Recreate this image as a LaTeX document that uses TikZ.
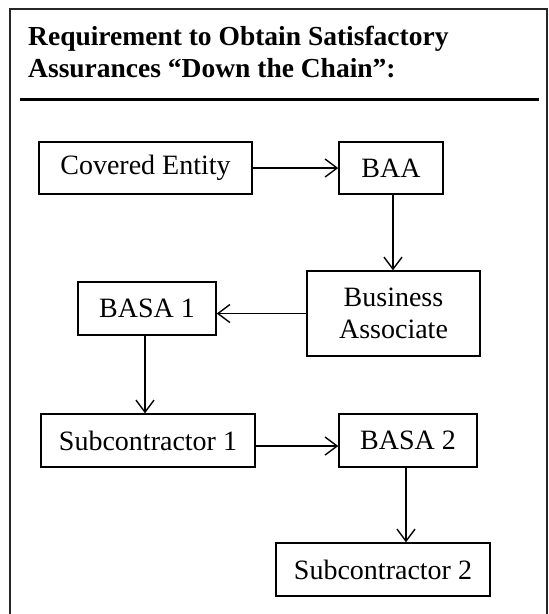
\documentclass[tikz,border=0pt]{standalone}
\usepackage{fontspec}
\setmainfont{Liberation Serif}
\usetikzlibrary{arrows.meta}

\begin{document}
\begin{tikzpicture}[x=1pt, y=-1pt,
	box/.style={draw, line width=1.5pt, inner sep=0pt, font=\fontsize{28}{32}\selectfont, align=center},
	flow/.style={-{Straight Barb[length=12pt, width=18pt, line width=1.4pt]}, line width=1.4pt}]

	\useasboundingbox (0,0) rectangle (549,614);

	% outer frame (bottom edge runs off the page)
	\draw[line width=1.7pt, color=black!85] (10,614) -- (10,9) -- (547,9) -- (547,614);

	% heading
	\node[anchor=base west, inner sep=0pt, font=\fontsize{27.5}{31}\selectfont\bfseries] (title1) at (28,45.7) {Requirement to Obtain Satisfactory};
	\node[anchor=base west, inner sep=0pt, font=\fontsize{27.5}{31}\selectfont\bfseries] (title2) at (28,77) {Assurances “Down the Chain”:};
	\draw[line width=3pt] (20,99) -- (539,99);

	% boxes
	\node[box, minimum width=213pt, minimum height=52pt] (ce) at (145.5,168) {Covered Entity};
	\node[box, minimum width=104pt, minimum height=52pt] (baa) at (391,168) {BAA};
	\node[box, minimum width=173pt, minimum height=85pt] (ba) at (393.5,313.5) {Business\\Associate};
	\node[box, minimum width=138pt, minimum height=53pt] (basa1) at (147,308.5) {BASA 1};
	\node[box, minimum width=214pt, minimum height=53pt] (sub1) at (148,440.5) {Subcontractor 1};
	\node[box, minimum width=138pt, minimum height=53pt] (basa2) at (408,440.5) {BASA 2};
	\node[box, minimum width=214pt, minimum height=53pt] (sub2) at (383,569.5) {Subcontractor 2};

	% arrows
	\draw[flow] (ce) -- (baa);
	\draw[flow] ([xshift=2pt]baa.south) -- ([xshift=2pt]baa.south |- ba.north);
	\draw[flow] (ba.west) -- (ba.west -| basa1.east);
	\draw[flow] ([xshift=-2pt]basa1.south) -- ([xshift=-2pt]basa1.south |- sub1.north);
	\draw[flow] ([yshift=-5.5pt]sub1.east) -- ([yshift=-5.5pt]sub1.east -| basa2.west);
	\draw[flow] ([xshift=-2pt]basa2.south) -- ([xshift=-2pt]basa2.south |- sub2.north);
\end{tikzpicture}
\end{document}
